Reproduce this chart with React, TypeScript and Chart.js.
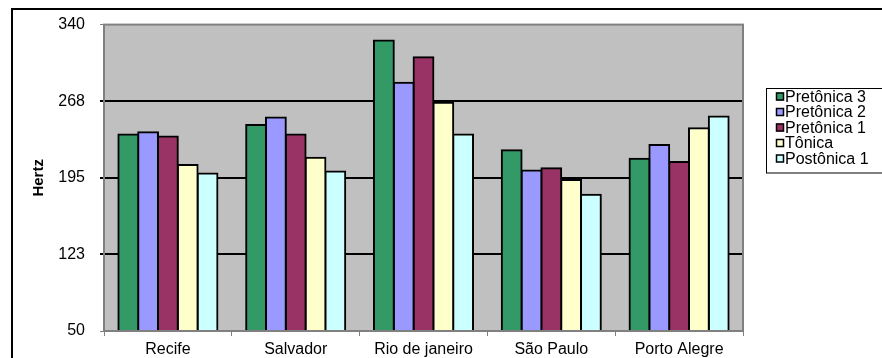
import React, { useEffect, useRef } from "react";
import { Chart, registerables } from "chart.js";

Chart.register(...registerables);

// Categories and series
const cities = ["Recife", "Salvador", "Rio de janeiro", "São Paulo", "Porto Alegre"];
const seriesNames = ["Pretônica 3", "Pretônica 2", "Pretônica 1", "Tônica", "Postônica 1"];
const pretonica3 = [236, 245, 325, 221, 213];
const pretonica2 = [238, 252, 285, 202, 226];
const pretonica1 = [234, 236, 309, 204, 210];
const tonica = [207, 214, 266, 193, 242];
const postonica1 = [199, 201, 236, 179, 253];
const yTickValues = [50, 122.5, 195, 267.5, 340];
const seriesColors = ["#339966", "#9999FF", "#993366", "#FFFFCC", "#CCFFFF"];

const FONT = "'Liberation Sans', Arial, sans-serif";
const Y_MIN = yTickValues[0];
const Y_MAX = yTickValues[yTickValues.length - 1];

// Grey plot area, outer chart frame
const backgroundPlugin = {
  id: "plotBackground",
  beforeDraw(chart: any) {
    const { ctx, chartArea } = chart;
    ctx.save();
    ctx.fillStyle = "#C0C0C0";
    ctx.fillRect(chartArea.left, chartArea.top, chartArea.right - chartArea.left, chartArea.bottom - chartArea.top);
    ctx.strokeStyle = "#000000";
    ctx.lineWidth = 2;
    ctx.beginPath();
    ctx.moveTo(12, 400);
    ctx.lineTo(12, 9);
    ctx.lineTo(900, 9);
    ctx.stroke();
    ctx.restore();
  },
};

// Grey border around the plot area, drawn over the bar bases
const framePlugin = {
  id: "plotFrame",
  afterDatasetsDraw(chart: any) {
    const { ctx, chartArea } = chart;
    ctx.save();
    ctx.strokeStyle = "#808080";
    ctx.lineWidth = 2;
    ctx.strokeRect(chartArea.left, chartArea.top, chartArea.right - chartArea.left, chartArea.bottom - chartArea.top);
    ctx.restore();
  },
};

// Boxed legend on the right
const boxLegendPlugin = {
  id: "boxLegend",
  afterDraw(chart: any) {
    const { ctx } = chart;
    const left = 766;
    const top = 88;
    const rowH = 15.5;
    const datasets = chart.data.datasets;
    ctx.save();
    ctx.strokeStyle = "#000000";
    ctx.lineWidth = 1;
    ctx.strokeRect(left + 0.5, top + 0.5, 200, datasets.length * rowH + 7);
    ctx.font = `16px ${FONT}`;
    ctx.textBaseline = "alphabetic";
    ctx.textAlign = "left";
    datasets.forEach((ds: any, i: number) => {
      const base = top + 13.5 + i * rowH;
      ctx.fillStyle = ds.backgroundColor;
      ctx.fillRect(776, base - 9, 8, 8);
      ctx.strokeStyle = "#000000";
      ctx.lineWidth = 1.5;
      ctx.strokeRect(776.5, base - 8.5, 7, 7);
      ctx.fillStyle = "#000000";
      ctx.fillText(ds.label, 785, base);
    });
    ctx.restore();
  },
};

export default function App() {
  const canvasRef = useRef<HTMLCanvasElement | null>(null);

  useEffect(() => {
    if (!canvasRef.current) return;
    const values = [pretonica3, pretonica2, pretonica1, tonica, postonica1];
    const chart = new Chart(canvasRef.current, {
      type: "bar",
      data: {
        labels: cities,
        datasets: seriesNames.map((name, i) => ({
          label: name,
          data: values[i],
          backgroundColor: seriesColors[i],
          borderColor: "#000000",
          borderWidth: 2,
          inflateAmount: 1,
          categoryPercentage: 0.775,
          barPercentage: 1,
        })),
      },
      options: {
        responsive: false,
        animation: false,
        devicePixelRatio: 1,
        events: [],
        layout: { padding: { left: 12, top: 23, right: 139, bottom: 0 } },
        plugins: {
          legend: { display: false },
          tooltip: { enabled: false },
        },
        scales: {
          x: {
            afterFit: (scale: any) => {
              scale.height = 27;
            },
            grid: {
              offset: true,
              drawOnChartArea: false,
              drawTicks: true,
              tickLength: 5,
              color: "#808080",
              lineWidth: 1,
            },
            border: { display: false },
            ticks: {
              color: "#000000",
              font: { family: FONT, size: 16 },
              padding: 4,
              maxRotation: 0,
              autoSkip: false,
            },
          },
          y: {
            min: Y_MIN,
            max: Y_MAX,
            afterFit: (scale: any) => {
              scale.width = 92;
            },
            afterBuildTicks: (scale: any) => {
              scale.ticks = yTickValues.map((v) => ({ value: v }));
            },
            grid: {
              color: (ctx: any) =>
                ctx.tick && (ctx.tick.value === Y_MIN || ctx.tick.value === Y_MAX) ? "#808080" : "#000000",
              lineWidth: (ctx: any) =>
                ctx.tick && (ctx.tick.value === Y_MIN || ctx.tick.value === Y_MAX) ? 1 : 2,
              tickLength: 4,
            },
            border: { display: false },
            ticks: {
              color: "#000000",
              font: { family: FONT, size: 16 },
              padding: 15,
              callback: (v: any) => String(Math.round(Number(v))),
            },
            title: {
              display: true,
              text: "Hertz",
              color: "#000000",
              font: { family: FONT, size: 15, weight: "bold" },
              padding: { top: 18, bottom: 0 },
            },
          },
        },
      },
      plugins: [backgroundPlugin, framePlugin, boxLegendPlugin],
    } as any);
    return () => chart.destroy();
  }, []);

  return (
    <div style={{ position: "absolute", left: 0, top: 0, width: 882, height: 358, background: "#ffffff" }}>
      <canvas ref={canvasRef} width={882} height={358} />
    </div>
  );
}
